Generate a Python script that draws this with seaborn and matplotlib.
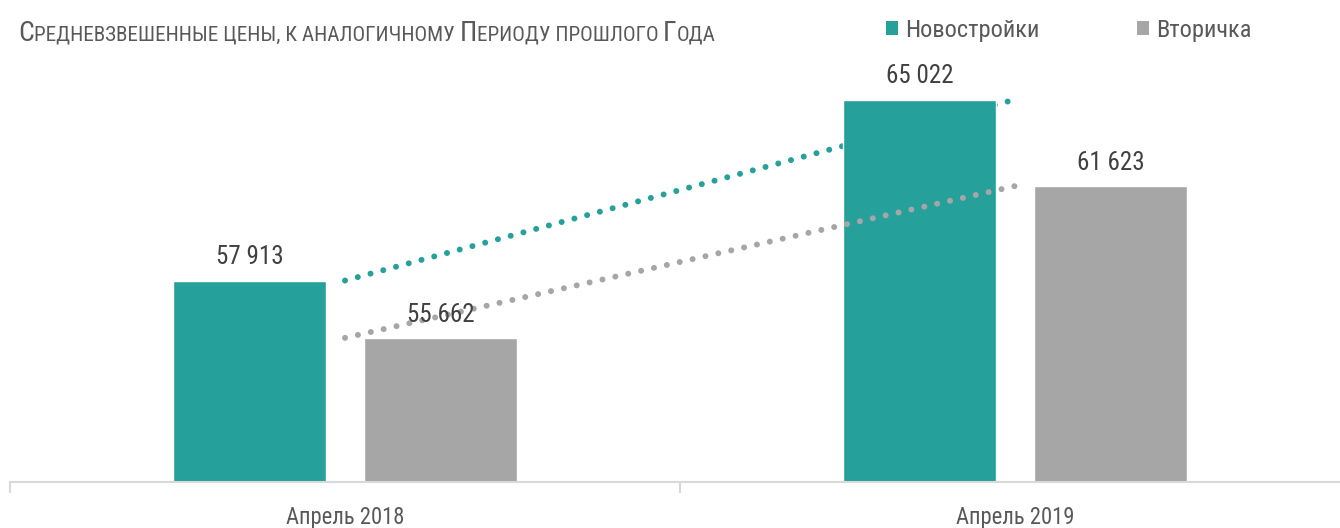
import re
import pandas as pd
import matplotlib
matplotlib.use("Agg")
import matplotlib.pyplot as plt
import seaborn as sns
from matplotlib.patches import Patch

# data
periods = ["Апрель 2018", "Апрель 2019"]
series = ["Новостройки", "Вторичка"]
new_build = [57913, 65022]
resale = [55662, 61623]
title = "Средневзвешенные цены, к аналогичному Периоду прошлого Года"

teal = "#26A09B"
grey = "#A6A6A6"
palette = {series[0]: teal, series[1]: grey}

df = pd.DataFrame({
    "period": periods * 2,
    "series": [series[0]] * len(periods) + [series[1]] * len(periods),
    "price": new_build + resale,
})

sns.set_style("white")
plt.rcParams["font.family"] = ["Roboto Condensed", "DejaVu Sans"]

fig = plt.figure(figsize=(13.4, 5.28), dpi=100)
ax = fig.add_axes([10 / 1340, 46 / 528, 1.0, 422 / 528])

sns.barplot(data=df, x="period", y="price", hue="series", palette=palette,
            width=0.57, gap=0.2, saturation=1, legend=False, ax=ax, zorder=2)

# dotted trend lines between the two periods
dots = (0, (0.01, 2.2))
ax.plot([0, 1], new_build, color=teal, lw=4.3, ls=dots,
        dash_capstyle="round", zorder=1)
ax.plot([0, 1], resale, color=grey, lw=4.3, ls=dots,
        dash_capstyle="round", zorder=3)

# value labels
for cont in ax.containers:
    ax.bar_label(cont, labels=[f"{v:,.0f}".replace(",", " ") for v in cont.datavalues],
                 padding=8, fontsize=18, color="#404040", zorder=5)

ax.set_ylim(50000, 66575)
ax.set_xlim(-0.5, 1.5)
ax.set_yticks([])
ax.set_xlabel("")
ax.set_ylabel("")
for s in ["left", "top", "right"]:
    ax.spines[s].set_visible(False)
ax.spines["bottom"].set_color("#D9D9D9")
ax.spines["bottom"].set_linewidth(1.5)

ax.set_xticks([-0.5, 0.5, 1.5], minor=True)
ax.tick_params(axis="x", which="minor", bottom=True, length=8, width=1.5,
               color="#D9D9D9", direction="out")
ax.tick_params(axis="x", which="major", length=0, pad=17, labelsize=16.3,
               labelcolor="#595959")

# legend
handles = [Patch(facecolor=palette[s], edgecolor="none") for s in series]
fig.legend(handles, series, loc="center left", bbox_to_anchor=(886 / 1340, 1 - 30 / 528),
           ncol=2, frameon=False, fontsize=17.6, labelcolor="#595959",
           handlelength=0.5, handleheight=0.5, handletextpad=0.27,
           columnspacing=4.0, borderpad=0, borderaxespad=0)

# title in small caps
fig.canvas.draw()
renderer = fig.canvas.get_renderer()
x = 18
for run in re.findall(r"[А-ЯЁA-Z]+|[^А-ЯЁA-Z]+", title):
    size = 20 if run[0].isupper() else 15.2
    t = fig.text(x / 1340, 1 - 41 / 528, run.upper(), fontsize=size,
                 color="#595959", va="baseline", ha="left")
    x = t.get_window_extent(renderer).x1

fig.savefig("out.png", dpi=100)
